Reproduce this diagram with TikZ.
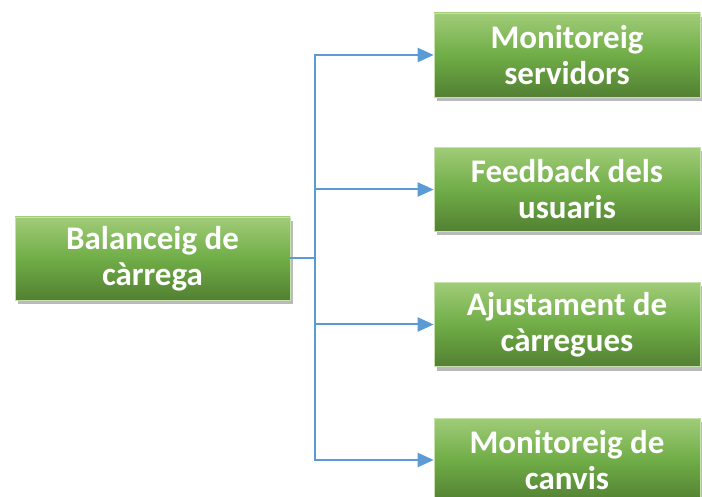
\documentclass[tikz,border=0pt]{standalone}
\usepackage{fontspec}
\setmainfont{Carlito}
\usetikzlibrary{arrows.meta,shadows}
\definecolor{gtop}{RGB}{160,204,120}
\definecolor{gmid}{RGB}{112,173,71}
\definecolor{gbot}{RGB}{82,128,50}
\definecolor{lineblue}{RGB}{91,155,213}
\tikzset{
  box/.style={rectangle, draw=gtop!60!white, line width=0.6pt,
    top color=gtop, bottom color=gbot, middle color=gmid,
    drop shadow={shadow xshift=3pt, shadow yshift=-4pt, opacity=0.45, fill=black!60},
    text=white, font=\bfseries\fontsize{33}{36}\selectfont, align=center,
    inner sep=0pt},
  arr/.style={draw=lineblue, line width=2pt, -{Triangle[length=16pt,width=14pt]}},
  ln/.style={draw=lineblue, line width=2pt}
}
\begin{document}
\begin{tikzpicture}[x=1pt,y=-1pt]
\useasboundingbox (0,0) rectangle (702,497);
\node[box, minimum width=275pt, minimum height=83pt] (L) at (152.5,258.5) {Balanceig de\\càrrega};
\node[box, minimum width=266pt, minimum height=84pt] (R1) at (567,55) {Monitoreig\\servidors};
\node[box, minimum width=266pt, minimum height=84pt] (R2) at (567,189.5) {Feedback dels\\usuaris};
\node[box, minimum width=266pt, minimum height=84pt] (R3) at (567,324.5) {Ajustament de\\càrregues};
\node[box, minimum width=266pt, minimum height=84pt] (R4) at (567,460) {Monitoreig de\\canvis};
\coordinate (J) at (315,258.5);
\draw[ln] (L.east) -- (J);
\draw[arr] (J) |- (R1.west);
\draw[arr] (J) |- (R2.west);
\draw[arr] (J) |- (R3.west);
\draw[arr] (J) |- (R4.west);
\end{tikzpicture}
\end{document}
